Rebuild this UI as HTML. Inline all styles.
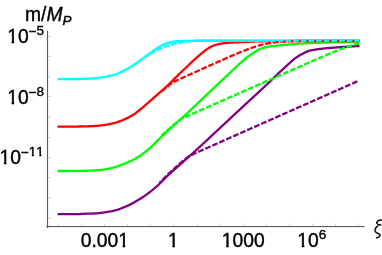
<!DOCTYPE html>
<html><head><meta charset="utf-8"><title>plot</title>
<style>
html,body{margin:0;padding:0;background:#fff;}
svg{display:block;}
text{font-family:"Liberation Sans",sans-serif;font-size:19.3px;fill:#000;stroke:#000;stroke-width:0.4;font-kerning:none;}
</style></head><body>
<svg width="382" height="255" viewBox="0 0 382 255">
<rect width="382" height="255" fill="#fff"/>
<line x1="47.60" y1="36.50" x2="50.90" y2="36.50" stroke="#bdbdbd" stroke-width="0.55"/>
<line x1="47.60" y1="56.50" x2="50.90" y2="56.50" stroke="#bdbdbd" stroke-width="0.55"/>
<line x1="47.60" y1="76.70" x2="50.90" y2="76.70" stroke="#bdbdbd" stroke-width="0.55"/>
<line x1="47.60" y1="96.50" x2="50.90" y2="96.50" stroke="#bdbdbd" stroke-width="0.55"/>
<line x1="47.60" y1="117.30" x2="50.90" y2="117.30" stroke="#bdbdbd" stroke-width="0.55"/>
<line x1="47.60" y1="137.50" x2="50.90" y2="137.50" stroke="#bdbdbd" stroke-width="0.55"/>
<line x1="47.60" y1="157.50" x2="50.90" y2="157.50" stroke="#bdbdbd" stroke-width="0.55"/>
<line x1="47.60" y1="177.50" x2="50.90" y2="177.50" stroke="#bdbdbd" stroke-width="0.55"/>
<line x1="47.60" y1="197.80" x2="50.90" y2="197.80" stroke="#bdbdbd" stroke-width="0.55"/>
<line x1="47.60" y1="218.40" x2="50.90" y2="218.40" stroke="#bdbdbd" stroke-width="0.55"/>
<line x1="58.50" y1="226.60" x2="58.50" y2="223.30" stroke="#bdbdbd" stroke-width="0.55"/>
<line x1="81.50" y1="226.60" x2="81.50" y2="223.30" stroke="#bdbdbd" stroke-width="0.55"/>
<line x1="104.50" y1="226.60" x2="104.50" y2="223.30" stroke="#bdbdbd" stroke-width="0.55"/>
<line x1="127.50" y1="226.60" x2="127.50" y2="223.30" stroke="#bdbdbd" stroke-width="0.55"/>
<line x1="150.50" y1="226.60" x2="150.50" y2="223.30" stroke="#bdbdbd" stroke-width="0.55"/>
<line x1="173.50" y1="226.60" x2="173.50" y2="223.30" stroke="#bdbdbd" stroke-width="0.55"/>
<line x1="197.50" y1="226.60" x2="197.50" y2="223.30" stroke="#bdbdbd" stroke-width="0.55"/>
<line x1="220.50" y1="226.60" x2="220.50" y2="223.30" stroke="#bdbdbd" stroke-width="0.55"/>
<line x1="243.50" y1="226.60" x2="243.50" y2="223.30" stroke="#bdbdbd" stroke-width="0.55"/>
<line x1="266.50" y1="226.60" x2="266.50" y2="223.30" stroke="#bdbdbd" stroke-width="0.55"/>
<line x1="289.50" y1="226.60" x2="289.50" y2="223.30" stroke="#bdbdbd" stroke-width="0.55"/>
<line x1="312.50" y1="226.60" x2="312.50" y2="223.30" stroke="#bdbdbd" stroke-width="0.55"/>
<line x1="335.50" y1="226.60" x2="335.50" y2="223.30" stroke="#bdbdbd" stroke-width="0.55"/>
<line x1="358.50" y1="226.60" x2="358.50" y2="223.30" stroke="#bdbdbd" stroke-width="0.55"/>
<line x1="47.60" y1="30.60" x2="47.60" y2="227.80" stroke="#4a4a4a" stroke-width="1"/>
<line x1="46.20" y1="226.60" x2="364.60" y2="226.60" stroke="#4a4a4a" stroke-width="1"/>
<path d="M57.50 214.20 L58.22 214.20 L58.94 214.20 L59.66 214.20 L60.38 214.20 L61.10 214.20 L61.82 214.20 L62.55 214.20 L63.27 214.19 L63.99 214.19 L64.71 214.19 L65.43 214.19 L66.15 214.19 L66.87 214.18 L67.59 214.18 L68.31 214.18 L69.03 214.18 L69.75 214.17 L70.47 214.17 L71.19 214.17 L71.92 214.16 L72.64 214.16 L73.36 214.16 L74.08 214.15 L74.80 214.15 L75.52 214.15 L76.24 214.14 L76.96 214.12 L77.68 214.10 L78.40 214.07 L79.12 214.05 L79.84 214.01 L80.56 213.98 L81.29 213.95 L82.01 213.91 L82.73 213.87 L83.45 213.84 L84.17 213.80 L84.89 213.77 L85.61 213.74 L86.33 213.71 L87.05 213.68 L87.77 213.66 L88.49 213.64 L89.21 213.63 L89.93 213.62 L90.66 213.61 L91.38 213.59 L92.10 213.57 L92.82 213.55 L93.54 213.52 L94.26 213.48 L94.98 213.44 L95.70 213.39 L96.42 213.34 L97.14 213.28 L97.86 213.22 L98.58 213.15 L99.30 213.08 L100.03 213.00 L100.75 212.91 L101.47 212.83 L102.19 212.73 L102.91 212.64 L103.63 212.54 L104.35 212.43 L105.07 212.31 L105.79 212.18 L106.51 212.05 L107.23 211.91 L107.95 211.77 L108.67 211.64 L109.39 211.55 L110.12 211.46 L110.84 211.37 L111.56 211.26 L112.28 211.11 L113.00 210.94 L113.72 210.77 L114.44 210.59 L115.16 210.41 L115.88 210.21 L116.60 210.00 L117.32 209.77 L118.04 209.54 L118.76 209.29 L119.49 209.03 L120.21 208.77 L120.93 208.50 L121.65 208.22 L122.37 207.94 L123.09 207.65 L123.81 207.36 L124.53 207.06 L125.25 206.75 L125.97 206.44 L126.69 206.13 L127.41 205.82 L128.13 205.50 L128.86 205.16 L129.58 204.82 L130.30 204.46 L131.02 204.09 L131.74 203.71 L132.46 203.32 L133.18 202.92 L133.90 202.52 L134.62 202.11 L135.34 201.69 L136.06 201.27 L136.78 200.84 L137.50 200.41 L138.23 199.98 L138.95 199.54 L139.67 199.10 L140.39 198.66 L141.11 198.21 L141.83 197.75 L142.55 197.29 L143.27 196.82 L143.99 196.34 L144.71 195.86 L145.43 195.37 L146.15 194.87 L146.87 194.35 L147.60 193.83 L148.32 193.30 L149.04 192.76 L149.76 192.20 L150.48 191.63 L151.20 191.05 L151.92 190.47 L152.64 189.88 L153.36 189.29 L154.08 188.69 L154.80 188.08 L155.52 187.46 L156.24 186.83 L156.97 186.19 L157.69 185.53 L158.41 184.86 L159.13 184.18 L159.85 183.49 L160.57 182.78 L161.29 182.05 L162.01 181.32 L162.73 180.57 L163.45 179.83 L164.17 179.09 L164.89 178.36 L165.61 177.64 L166.34 176.94 L167.06 176.26 L167.78 175.58 L168.50 174.90 L169.22 174.23 L169.94 173.57 L170.66 172.92 L171.38 172.26 L172.10 171.62 L172.82 170.97 L173.54 170.33 L174.26 169.69 L174.98 169.05 L175.71 168.41 L176.43 167.78 L177.15 167.14 L177.87 166.50 L178.59 165.86 L179.31 165.22 L180.03 164.58 L180.75 163.95 L181.47 163.31 L182.19 162.67 L182.91 162.04 L183.63 161.40 L184.35 160.76 L185.08 160.12 L185.80 159.47 L186.52 158.83 L187.24 158.18 L187.96 157.54 L188.68 156.89 L189.40 156.24 L190.12 155.58 L190.84 154.93 L191.56 154.27 L192.28 153.61 L193.00 152.96 L193.72 152.30 L194.45 151.64 L195.17 150.99 L195.89 150.34 L196.61 149.69 L197.33 149.03 L198.05 148.37 L198.77 147.71 L199.49 147.05 L200.21 146.39 L200.93 145.72 L201.65 145.06 L202.37 144.40 L203.09 143.74 L203.82 143.07 L204.54 142.41 L205.26 141.74 L205.98 141.07 L206.70 140.40 L207.42 139.73 L208.14 139.06 L208.86 138.39 L209.58 137.71 L210.30 137.04 L211.02 136.37 L211.74 135.69 L212.46 135.02 L213.18 134.35 L213.91 133.67 L214.63 133.00 L215.35 132.33 L216.07 131.66 L216.79 130.99 L217.51 130.31 L218.23 129.64 L218.95 128.97 L219.67 128.30 L220.39 127.62 L221.11 126.95 L221.83 126.28 L222.55 125.61 L223.28 124.93 L224.00 124.26 L224.72 123.59 L225.44 122.92 L226.16 122.24 L226.88 121.57 L227.60 120.90 L228.32 120.23 L229.04 119.56 L229.76 118.88 L230.48 118.21 L231.20 117.54 L231.92 116.87 L232.65 116.19 L233.37 115.52 L234.09 114.85 L234.81 114.18 L235.53 113.51 L236.25 112.84 L236.97 112.16 L237.69 111.49 L238.41 110.82 L239.13 110.15 L239.85 109.48 L240.57 108.81 L241.29 108.14 L242.02 107.47 L242.74 106.80 L243.46 106.13 L244.18 105.46 L244.90 104.80 L245.62 104.13 L246.34 103.47 L247.06 102.80 L247.78 102.14 L248.50 101.47 L249.22 100.81 L249.94 100.15 L250.66 99.49 L251.39 98.83 L252.11 98.16 L252.83 97.50 L253.55 96.84 L254.27 96.18 L254.99 95.52 L255.71 94.86 L256.43 94.19 L257.15 93.53 L257.87 92.86 L258.59 92.20 L259.31 91.53 L260.03 90.87 L260.76 90.20 L261.48 89.53 L262.20 88.86 L262.92 88.18 L263.64 87.51 L264.36 86.83 L265.08 86.15 L265.80 85.47 L266.52 84.79 L267.24 84.10 L267.96 83.41 L268.68 82.71 L269.40 82.02 L270.13 81.32 L270.85 80.63 L271.57 79.93 L272.29 79.24 L273.01 78.54 L273.73 77.84 L274.45 77.15 L275.17 76.46 L275.89 75.77 L276.61 75.08 L277.33 74.39 L278.05 73.71 L278.77 73.03 L279.50 72.36 L280.22 71.68 L280.94 71.02 L281.66 70.35 L282.38 69.69 L283.10 69.03 L283.82 68.37 L284.54 67.71 L285.26 67.06 L285.98 66.40 L286.70 65.75 L287.42 65.10 L288.14 64.45 L288.87 63.80 L289.59 63.14 L290.31 62.47 L291.03 61.80 L291.75 61.13 L292.47 60.48 L293.19 59.85 L293.91 59.25 L294.63 58.69 L295.35 58.17 L296.07 57.66 L296.79 57.16 L297.51 56.69 L298.24 56.22 L298.96 55.78 L299.68 55.36 L300.40 54.96 L301.12 54.57 L301.84 54.18 L302.56 53.79 L303.28 53.39 L304.00 53.01 L304.72 52.63 L305.44 52.27 L306.16 51.94 L306.88 51.63 L307.61 51.35 L308.33 51.09 L309.05 50.85 L309.77 50.64 L310.49 50.45 L311.21 50.28 L311.93 50.14 L312.65 50.02 L313.37 49.90 L314.09 49.78 L314.81 49.66 L315.53 49.55 L316.25 49.44 L316.97 49.34 L317.70 49.24 L318.42 49.14 L319.14 49.04 L319.86 48.95 L320.58 48.86 L321.30 48.78 L322.02 48.69 L322.74 48.61 L323.46 48.54 L324.18 48.46 L324.90 48.39 L325.62 48.32 L326.34 48.25 L327.07 48.18 L327.79 48.12 L328.51 48.05 L329.23 47.99 L329.95 47.93 L330.67 47.87 L331.39 47.81 L332.11 47.75 L332.83 47.70 L333.55 47.64 L334.27 47.59 L334.99 47.53 L335.71 47.48 L336.44 47.43 L337.16 47.38 L337.88 47.33 L338.60 47.27 L339.32 47.22 L340.04 47.17 L340.76 47.12 L341.48 47.07 L342.20 47.02 L342.92 46.98 L343.64 46.93 L344.36 46.88 L345.08 46.83 L345.81 46.78 L346.53 46.74 L347.25 46.69 L347.97 46.65 L348.69 46.60 L349.41 46.56 L350.13 46.51 L350.85 46.47 L351.57 46.43 L352.29 46.38 L353.01 46.34 L353.73 46.30 L354.45 46.26 L355.18 46.22 L355.90 46.18 L356.62 46.14 L357.34 46.10 L358.06 46.07 L358.78 46.03 L359.50 45.99" stroke="#800080" stroke-width="2.3" fill="none" stroke-linejoin="round"/>
<path d="M57.50 171.00 L58.22 171.00 L58.94 171.00 L59.66 171.00 L60.38 171.00 L61.10 171.00 L61.82 171.00 L62.55 171.00 L63.27 170.99 L63.99 170.99 L64.71 170.99 L65.43 170.99 L66.15 170.99 L66.87 170.98 L67.59 170.98 L68.31 170.98 L69.03 170.98 L69.75 170.97 L70.47 170.97 L71.19 170.97 L71.92 170.97 L72.64 170.96 L73.36 170.96 L74.08 170.95 L74.80 170.95 L75.52 170.95 L76.24 170.94 L76.96 170.94 L77.68 170.93 L78.40 170.92 L79.12 170.92 L79.84 170.91 L80.56 170.90 L81.29 170.89 L82.01 170.87 L82.73 170.86 L83.45 170.84 L84.17 170.83 L84.89 170.81 L85.61 170.79 L86.33 170.76 L87.05 170.74 L87.77 170.71 L88.49 170.68 L89.21 170.65 L89.93 170.62 L90.66 170.60 L91.38 170.56 L92.10 170.53 L92.82 170.50 L93.54 170.46 L94.26 170.42 L94.98 170.37 L95.70 170.33 L96.42 170.28 L97.14 170.23 L97.86 170.17 L98.58 170.11 L99.30 170.04 L100.03 169.97 L100.75 169.90 L101.47 169.83 L102.19 169.75 L102.91 169.66 L103.63 169.57 L104.35 169.47 L105.07 169.36 L105.79 169.24 L106.51 169.11 L107.23 168.98 L107.95 168.83 L108.67 168.68 L109.39 168.53 L110.12 168.36 L110.84 168.20 L111.56 168.02 L112.28 167.84 L113.00 167.66 L113.72 167.47 L114.44 167.28 L115.16 167.08 L115.88 166.88 L116.60 166.66 L117.32 166.42 L118.04 166.18 L118.76 165.92 L119.49 165.65 L120.21 165.37 L120.93 165.09 L121.65 164.81 L122.37 164.52 L123.09 164.24 L123.81 163.95 L124.53 163.66 L125.25 163.37 L125.97 163.08 L126.69 162.79 L127.41 162.49 L128.13 162.20 L128.86 161.89 L129.58 161.58 L130.30 161.26 L131.02 160.92 L131.74 160.57 L132.46 160.21 L133.18 159.84 L133.90 159.47 L134.62 159.08 L135.34 158.68 L136.06 158.28 L136.78 157.86 L137.50 157.43 L138.23 156.99 L138.95 156.54 L139.67 156.07 L140.39 155.58 L141.11 155.08 L141.83 154.57 L142.55 154.04 L143.27 153.50 L143.99 152.95 L144.71 152.39 L145.43 151.82 L146.15 151.25 L146.87 150.66 L147.60 150.06 L148.32 149.45 L149.04 148.82 L149.76 148.18 L150.48 147.53 L151.20 146.86 L151.92 146.16 L152.64 145.46 L153.36 144.74 L154.08 144.01 L154.80 143.29 L155.52 142.56 L156.24 141.84 L156.97 141.11 L157.69 140.39 L158.41 139.68 L159.13 138.98 L159.85 138.29 L160.57 137.61 L161.29 136.93 L162.01 136.25 L162.73 135.58 L163.45 134.91 L164.17 134.25 L164.89 133.59 L165.61 132.93 L166.34 132.27 L167.06 131.62 L167.78 130.96 L168.50 130.30 L169.22 129.65 L169.94 128.99 L170.66 128.33 L171.38 127.67 L172.10 127.00 L172.82 126.34 L173.54 125.68 L174.26 125.02 L174.98 124.36 L175.71 123.71 L176.43 123.05 L177.15 122.39 L177.87 121.73 L178.59 121.08 L179.31 120.42 L180.03 119.76 L180.75 119.11 L181.47 118.45 L182.19 117.79 L182.91 117.13 L183.63 116.47 L184.35 115.81 L185.08 115.15 L185.80 114.49 L186.52 113.82 L187.24 113.15 L187.96 112.48 L188.68 111.80 L189.40 111.13 L190.12 110.45 L190.84 109.77 L191.56 109.08 L192.28 108.40 L193.00 107.72 L193.72 107.03 L194.45 106.34 L195.17 105.66 L195.89 104.97 L196.61 104.28 L197.33 103.60 L198.05 102.91 L198.77 102.23 L199.49 101.54 L200.21 100.86 L200.93 100.18 L201.65 99.50 L202.37 98.82 L203.09 98.14 L203.82 97.45 L204.54 96.77 L205.26 96.08 L205.98 95.40 L206.70 94.71 L207.42 94.02 L208.14 93.34 L208.86 92.66 L209.58 91.97 L210.30 91.29 L211.02 90.61 L211.74 89.93 L212.46 89.25 L213.18 88.57 L213.91 87.89 L214.63 87.22 L215.35 86.54 L216.07 85.86 L216.79 85.19 L217.51 84.51 L218.23 83.84 L218.95 83.17 L219.67 82.49 L220.39 81.81 L221.11 81.14 L221.83 80.46 L222.55 79.78 L223.28 79.10 L224.00 78.42 L224.72 77.73 L225.44 77.04 L226.16 76.36 L226.88 75.67 L227.60 74.98 L228.32 74.29 L229.04 73.60 L229.76 72.91 L230.48 72.22 L231.20 71.54 L231.92 70.85 L232.65 70.17 L233.37 69.49 L234.09 68.82 L234.81 68.14 L235.53 67.47 L236.25 66.81 L236.97 66.15 L237.69 65.50 L238.41 64.85 L239.13 64.20 L239.85 63.55 L240.57 62.90 L241.29 62.25 L242.02 61.60 L242.74 60.96 L243.46 60.34 L244.18 59.72 L244.90 59.10 L245.62 58.50 L246.34 57.91 L247.06 57.33 L247.78 56.78 L248.50 56.23 L249.22 55.71 L249.94 55.20 L250.66 54.70 L251.39 54.22 L252.11 53.75 L252.83 53.27 L253.55 52.79 L254.27 52.31 L254.99 51.84 L255.71 51.37 L256.43 50.93 L257.15 50.51 L257.87 50.12 L258.59 49.75 L259.31 49.40 L260.03 49.06 L260.76 48.74 L261.48 48.44 L262.20 48.17 L262.92 47.93 L263.64 47.71 L264.36 47.51 L265.08 47.34 L265.80 47.17 L266.52 47.02 L267.24 46.88 L267.96 46.75 L268.68 46.63 L269.40 46.52 L270.13 46.41 L270.85 46.30 L271.57 46.20 L272.29 46.11 L273.01 46.02 L273.73 45.93 L274.45 45.85 L275.17 45.77 L275.89 45.69 L276.61 45.61 L277.33 45.54 L278.05 45.47 L278.77 45.39 L279.50 45.32 L280.22 45.25 L280.94 45.18 L281.66 45.11 L282.38 45.04 L283.10 44.98 L283.82 44.92 L284.54 44.86 L285.26 44.80 L285.98 44.74 L286.70 44.69 L287.42 44.63 L288.14 44.57 L288.87 44.52 L289.59 44.46 L290.31 44.40 L291.03 44.33 L291.75 44.27 L292.47 44.21 L293.19 44.16 L293.91 44.10 L294.63 44.04 L295.35 43.99 L296.07 43.94 L296.79 43.88 L297.51 43.84 L298.24 43.79 L298.96 43.75 L299.68 43.70 L300.40 43.66 L301.12 43.62 L301.84 43.58 L302.56 43.54 L303.28 43.50 L304.00 43.45 L304.72 43.41 L305.44 43.36 L306.16 43.32 L306.88 43.28 L307.61 43.23 L308.33 43.19 L309.05 43.15 L309.77 43.11 L310.49 43.07 L311.21 43.04 L311.93 43.01 L312.65 42.98 L313.37 42.95 L314.09 42.92 L314.81 42.89 L315.53 42.87 L316.25 42.84 L316.97 42.82 L317.70 42.79 L318.42 42.77 L319.14 42.75 L319.86 42.72 L320.58 42.70 L321.30 42.68 L322.02 42.66 L322.74 42.64 L323.46 42.62 L324.18 42.60 L324.90 42.59 L325.62 42.57 L326.34 42.55 L327.07 42.54 L327.79 42.52 L328.51 42.51 L329.23 42.49 L329.95 42.48 L330.67 42.46 L331.39 42.45 L332.11 42.44 L332.83 42.42 L333.55 42.41 L334.27 42.40 L334.99 42.38 L335.71 42.37 L336.44 42.36 L337.16 42.35 L337.88 42.33 L338.60 42.32 L339.32 42.31 L340.04 42.30 L340.76 42.29 L341.48 42.28 L342.20 42.26 L342.92 42.25 L343.64 42.24 L344.36 42.23 L345.08 42.22 L345.81 42.21 L346.53 42.20 L347.25 42.20 L347.97 42.19 L348.69 42.18 L349.41 42.17 L350.13 42.16 L350.85 42.16 L351.57 42.15 L352.29 42.14 L353.01 42.14 L353.73 42.13 L354.45 42.13 L355.18 42.12 L355.90 42.12 L356.62 42.11 L357.34 42.11 L358.06 42.10 L358.78 42.10 L359.50 42.10" stroke="#00ff00" stroke-width="2.3" fill="none" stroke-linejoin="round"/>
<path d="M57.50 126.60 L58.22 126.60 L58.94 126.60 L59.66 126.60 L60.38 126.60 L61.10 126.60 L61.82 126.60 L62.55 126.60 L63.27 126.59 L63.99 126.59 L64.71 126.59 L65.43 126.59 L66.15 126.59 L66.87 126.58 L67.59 126.58 L68.31 126.58 L69.03 126.58 L69.75 126.57 L70.47 126.57 L71.19 126.57 L71.92 126.57 L72.64 126.56 L73.36 126.56 L74.08 126.55 L74.80 126.55 L75.52 126.55 L76.24 126.54 L76.96 126.53 L77.68 126.53 L78.40 126.52 L79.12 126.51 L79.84 126.50 L80.56 126.48 L81.29 126.47 L82.01 126.45 L82.73 126.44 L83.45 126.42 L84.17 126.40 L84.89 126.38 L85.61 126.36 L86.33 126.34 L87.05 126.32 L87.77 126.30 L88.49 126.27 L89.21 126.25 L89.93 126.23 L90.66 126.20 L91.38 126.17 L92.10 126.14 L92.82 126.10 L93.54 126.06 L94.26 126.02 L94.98 125.97 L95.70 125.92 L96.42 125.86 L97.14 125.80 L97.86 125.74 L98.58 125.67 L99.30 125.60 L100.03 125.53 L100.75 125.45 L101.47 125.37 L102.19 125.29 L102.91 125.20 L103.63 125.11 L104.35 125.01 L105.07 124.91 L105.79 124.79 L106.51 124.67 L107.23 124.54 L107.95 124.41 L108.67 124.27 L109.39 124.12 L110.12 123.97 L110.84 123.81 L111.56 123.65 L112.28 123.48 L113.00 123.31 L113.72 123.13 L114.44 122.95 L115.16 122.77 L115.88 122.58 L116.60 122.37 L117.32 122.15 L118.04 121.91 L118.76 121.67 L119.49 121.41 L120.21 121.14 L120.93 120.86 L121.65 120.57 L122.37 120.26 L123.09 119.95 L123.81 119.63 L124.53 119.31 L125.25 118.98 L125.97 118.65 L126.69 118.31 L127.41 117.97 L128.13 117.63 L128.86 117.27 L129.58 116.90 L130.30 116.50 L131.02 116.10 L131.74 115.68 L132.46 115.24 L133.18 114.79 L133.90 114.32 L134.62 113.83 L135.34 113.32 L136.06 112.78 L136.78 112.23 L137.50 111.66 L138.23 111.09 L138.95 110.51 L139.67 109.93 L140.39 109.35 L141.11 108.76 L141.83 108.16 L142.55 107.55 L143.27 106.93 L143.99 106.31 L144.71 105.69 L145.43 105.06 L146.15 104.44 L146.87 103.81 L147.60 103.18 L148.32 102.55 L149.04 101.92 L149.76 101.28 L150.48 100.64 L151.20 100.00 L151.92 99.37 L152.64 98.73 L153.36 98.10 L154.08 97.46 L154.80 96.83 L155.52 96.19 L156.24 95.56 L156.97 94.92 L157.69 94.29 L158.41 93.66 L159.13 93.03 L159.85 92.40 L160.57 91.77 L161.29 91.15 L162.01 90.52 L162.73 89.89 L163.45 89.26 L164.17 88.63 L164.89 88.00 L165.61 87.36 L166.34 86.73 L167.06 86.08 L167.78 85.43 L168.50 84.74 L169.22 84.04 L169.94 83.32 L170.66 82.59 L171.38 81.85 L172.10 81.11 L172.82 80.37 L173.54 79.63 L174.26 78.90 L174.98 78.19 L175.71 77.48 L176.43 76.77 L177.15 76.06 L177.87 75.34 L178.59 74.63 L179.31 73.93 L180.03 73.22 L180.75 72.52 L181.47 71.83 L182.19 71.15 L182.91 70.48 L183.63 69.81 L184.35 69.15 L185.08 68.48 L185.80 67.82 L186.52 67.14 L187.24 66.45 L187.96 65.77 L188.68 65.08 L189.40 64.38 L190.12 63.69 L190.84 63.00 L191.56 62.32 L192.28 61.63 L193.00 60.96 L193.72 60.29 L194.45 59.63 L195.17 58.98 L195.89 58.33 L196.61 57.68 L197.33 57.04 L198.05 56.40 L198.77 55.77 L199.49 55.15 L200.21 54.53 L200.93 53.93 L201.65 53.33 L202.37 52.73 L203.09 52.13 L203.82 51.53 L204.54 50.94 L205.26 50.38 L205.98 49.84 L206.70 49.33 L207.42 48.85 L208.14 48.41 L208.86 47.97 L209.58 47.55 L210.30 47.14 L211.02 46.76 L211.74 46.40 L212.46 46.07 L213.18 45.76 L213.91 45.49 L214.63 45.23 L215.35 44.98 L216.07 44.75 L216.79 44.54 L217.51 44.34 L218.23 44.16 L218.95 44.00 L219.67 43.86 L220.39 43.74 L221.11 43.62 L221.83 43.52 L222.55 43.42 L223.28 43.33 L224.00 43.24 L224.72 43.16 L225.44 43.09 L226.16 43.02 L226.88 42.95 L227.60 42.89 L228.32 42.83 L229.04 42.77 L229.76 42.72 L230.48 42.67 L231.20 42.63 L231.92 42.58 L232.65 42.54 L233.37 42.49 L234.09 42.45 L234.81 42.41 L235.53 42.37 L236.25 42.34 L236.97 42.30 L237.69 42.26 L238.41 42.23 L239.13 42.19 L239.85 42.15 L240.57 42.12 L241.29 42.08 L242.02 42.05 L242.74 42.01 L243.46 41.98 L244.18 41.94 L244.90 41.91 L245.62 41.88 L246.34 41.84 L247.06 41.81 L247.78 41.77 L248.50 41.74 L249.22 41.70 L249.94 41.67 L250.66 41.64 L251.39 41.60 L252.11 41.57 L252.83 41.54 L253.55 41.52 L254.27 41.49 L254.99 41.47 L255.71 41.45 L256.43 41.43 L257.15 41.41 L257.87 41.40 L258.59 41.38 L259.31 41.37 L260.03 41.36 L260.76 41.35 L261.48 41.34 L262.20 41.33 L262.92 41.31 L263.64 41.30 L264.36 41.29 L265.08 41.28 L265.80 41.27 L266.52 41.26 L267.24 41.25 L267.96 41.24 L268.68 41.23 L269.40 41.22 L270.13 41.21 L270.85 41.20 L271.57 41.19 L272.29 41.18 L273.01 41.17 L273.73 41.17 L274.45 41.16 L275.17 41.15 L275.89 41.14 L276.61 41.13 L277.33 41.12 L278.05 41.12 L278.77 41.11 L279.50 41.10 L280.22 41.10 L280.94 41.09 L281.66 41.08 L282.38 41.08 L283.10 41.07 L283.82 41.07 L284.54 41.06 L285.26 41.05 L285.98 41.05 L286.70 41.04 L287.42 41.04 L288.14 41.04 L288.87 41.03 L289.59 41.03 L290.31 41.02 L291.03 41.02 L291.75 41.02 L292.47 41.01 L293.19 41.01 L293.91 41.01 L294.63 41.01 L295.35 41.01 L296.07 41.00 L296.79 41.00 L297.51 41.00 L298.24 41.00 L298.96 41.00 L299.68 41.00 L300.40 41.00 L301.12 41.00 L301.84 41.00 L302.56 41.00 L303.28 41.00 L304.00 41.00 L304.72 41.00 L305.44 41.00 L306.16 41.00 L306.88 41.00 L307.61 41.00 L308.33 41.00 L309.05 41.00 L309.77 41.00 L310.49 41.00 L311.21 41.00 L311.93 41.00 L312.65 41.00 L313.37 41.00 L314.09 41.00 L314.81 41.00 L315.53 41.00 L316.25 41.00 L316.97 41.00 L317.70 41.00 L318.42 41.00 L319.14 41.00 L319.86 41.00 L320.58 41.00 L321.30 41.00 L322.02 41.00 L322.74 41.00 L323.46 41.00 L324.18 41.00 L324.90 41.00 L325.62 41.00 L326.34 41.00 L327.07 41.00 L327.79 41.00 L328.51 41.00 L329.23 41.00 L329.95 41.00 L330.67 41.00 L331.39 41.00 L332.11 41.00 L332.83 41.00 L333.55 41.00 L334.27 41.00 L334.99 41.00 L335.71 41.00 L336.44 41.00 L337.16 41.00 L337.88 41.00 L338.60 41.00 L339.32 41.00 L340.04 41.00 L340.76 41.00 L341.48 41.00 L342.20 41.00 L342.92 41.00 L343.64 41.00 L344.36 41.00 L345.08 41.00 L345.81 41.00 L346.53 41.00 L347.25 41.00 L347.97 41.00 L348.69 41.00 L349.41 41.00 L350.13 41.00 L350.85 41.00 L351.57 41.00 L352.29 41.00 L353.01 41.00 L353.73 41.00 L354.45 41.00 L355.18 41.00 L355.90 41.00 L356.62 41.00 L357.34 41.00 L358.06 41.00 L358.78 41.00 L359.50 41.00" stroke="#ff0000" stroke-width="2.3" fill="none" stroke-linejoin="round"/>
<path d="M57.50 79.10 L58.22 79.10 L58.94 79.10 L59.66 79.10 L60.38 79.10 L61.10 79.10 L61.82 79.10 L62.55 79.10 L63.27 79.09 L63.99 79.09 L64.71 79.09 L65.43 79.09 L66.15 79.09 L66.87 79.08 L67.59 79.08 L68.31 79.08 L69.03 79.08 L69.75 79.07 L70.47 79.07 L71.19 79.07 L71.92 79.07 L72.64 79.06 L73.36 79.06 L74.08 79.05 L74.80 79.05 L75.52 79.05 L76.24 79.04 L76.96 79.03 L77.68 79.02 L78.40 79.01 L79.12 78.99 L79.84 78.98 L80.56 78.96 L81.29 78.94 L82.01 78.92 L82.73 78.90 L83.45 78.87 L84.17 78.85 L84.89 78.82 L85.61 78.79 L86.33 78.76 L87.05 78.73 L87.77 78.70 L88.49 78.67 L89.21 78.64 L89.93 78.60 L90.66 78.57 L91.38 78.52 L92.10 78.48 L92.82 78.42 L93.54 78.36 L94.26 78.30 L94.98 78.23 L95.70 78.16 L96.42 78.09 L97.14 78.01 L97.86 77.92 L98.58 77.83 L99.30 77.74 L100.03 77.65 L100.75 77.56 L101.47 77.46 L102.19 77.36 L102.91 77.26 L103.63 77.15 L104.35 77.03 L105.07 76.91 L105.79 76.78 L106.51 76.64 L107.23 76.50 L107.95 76.35 L108.67 76.19 L109.39 76.03 L110.12 75.86 L110.84 75.68 L111.56 75.50 L112.28 75.31 L113.00 75.11 L113.72 74.91 L114.44 74.70 L115.16 74.48 L115.88 74.25 L116.60 74.00 L117.32 73.73 L118.04 73.45 L118.76 73.15 L119.49 72.83 L120.21 72.50 L120.93 72.16 L121.65 71.81 L122.37 71.45 L123.09 71.08 L123.81 70.70 L124.53 70.32 L125.25 69.93 L125.97 69.54 L126.69 69.15 L127.41 68.76 L128.13 68.36 L128.86 67.95 L129.58 67.52 L130.30 67.08 L131.02 66.63 L131.74 66.17 L132.46 65.70 L133.18 65.22 L133.90 64.74 L134.62 64.25 L135.34 63.76 L136.06 63.27 L136.78 62.78 L137.50 62.29 L138.23 61.78 L138.95 61.27 L139.67 60.75 L140.39 60.23 L141.11 59.70 L141.83 59.16 L142.55 58.63 L143.27 58.09 L143.99 57.55 L144.71 57.02 L145.43 56.48 L146.15 55.95 L146.87 55.43 L147.60 54.91 L148.32 54.40 L149.04 53.89 L149.76 53.38 L150.48 52.86 L151.20 52.34 L151.92 51.82 L152.64 51.29 L153.36 50.77 L154.08 50.25 L154.80 49.74 L155.52 49.24 L156.24 48.74 L156.97 48.26 L157.69 47.79 L158.41 47.33 L159.13 46.89 L159.85 46.47 L160.57 46.08 L161.29 45.70 L162.01 45.34 L162.73 44.99 L163.45 44.65 L164.17 44.32 L164.89 44.01 L165.61 43.72 L166.34 43.45 L167.06 43.21 L167.78 42.98 L168.50 42.77 L169.22 42.56 L169.94 42.36 L170.66 42.17 L171.38 42.00 L172.10 41.85 L172.82 41.72 L173.54 41.62 L174.26 41.54 L174.98 41.46 L175.71 41.39 L176.43 41.32 L177.15 41.26 L177.87 41.20 L178.59 41.14 L179.31 41.09 L180.03 41.04 L180.75 41.00 L181.47 40.97 L182.19 40.94 L182.91 40.92 L183.63 40.90 L184.35 40.89 L185.08 40.88 L185.80 40.87 L186.52 40.86 L187.24 40.85 L187.96 40.84 L188.68 40.83 L189.40 40.82 L190.12 40.81 L190.84 40.80 L191.56 40.79 L192.28 40.79 L193.00 40.78 L193.72 40.78 L194.45 40.77 L195.17 40.77 L195.89 40.76 L196.61 40.76 L197.33 40.76 L198.05 40.75 L198.77 40.75 L199.49 40.75 L200.21 40.75 L200.93 40.75 L201.65 40.75 L202.37 40.75 L203.09 40.75 L203.82 40.75 L204.54 40.75 L205.26 40.75 L205.98 40.75 L206.70 40.74 L207.42 40.74 L208.14 40.74 L208.86 40.74 L209.58 40.74 L210.30 40.74 L211.02 40.74 L211.74 40.74 L212.46 40.74 L213.18 40.74 L213.91 40.74 L214.63 40.74 L215.35 40.74 L216.07 40.74 L216.79 40.74 L217.51 40.74 L218.23 40.74 L218.95 40.74 L219.67 40.74 L220.39 40.74 L221.11 40.73 L221.83 40.73 L222.55 40.73 L223.28 40.73 L224.00 40.73 L224.72 40.73 L225.44 40.73 L226.16 40.73 L226.88 40.73 L227.60 40.73 L228.32 40.73 L229.04 40.73 L229.76 40.73 L230.48 40.73 L231.20 40.73 L231.92 40.73 L232.65 40.73 L233.37 40.73 L234.09 40.73 L234.81 40.73 L235.53 40.73 L236.25 40.73 L236.97 40.73 L237.69 40.73 L238.41 40.72 L239.13 40.72 L239.85 40.72 L240.57 40.72 L241.29 40.72 L242.02 40.72 L242.74 40.72 L243.46 40.72 L244.18 40.72 L244.90 40.72 L245.62 40.72 L246.34 40.72 L247.06 40.72 L247.78 40.72 L248.50 40.72 L249.22 40.72 L249.94 40.72 L250.66 40.72 L251.39 40.72 L252.11 40.72 L252.83 40.72 L253.55 40.72 L254.27 40.72 L254.99 40.72 L255.71 40.72 L256.43 40.72 L257.15 40.72 L257.87 40.72 L258.59 40.72 L259.31 40.72 L260.03 40.72 L260.76 40.71 L261.48 40.71 L262.20 40.71 L262.92 40.71 L263.64 40.71 L264.36 40.71 L265.08 40.71 L265.80 40.71 L266.52 40.71 L267.24 40.71 L267.96 40.71 L268.68 40.71 L269.40 40.71 L270.13 40.71 L270.85 40.71 L271.57 40.71 L272.29 40.71 L273.01 40.71 L273.73 40.71 L274.45 40.71 L275.17 40.71 L275.89 40.71 L276.61 40.71 L277.33 40.71 L278.05 40.71 L278.77 40.71 L279.50 40.71 L280.22 40.71 L280.94 40.71 L281.66 40.71 L282.38 40.71 L283.10 40.71 L283.82 40.71 L284.54 40.71 L285.26 40.71 L285.98 40.71 L286.70 40.71 L287.42 40.71 L288.14 40.71 L288.87 40.71 L289.59 40.71 L290.31 40.71 L291.03 40.71 L291.75 40.71 L292.47 40.71 L293.19 40.71 L293.91 40.71 L294.63 40.71 L295.35 40.71 L296.07 40.71 L296.79 40.70 L297.51 40.70 L298.24 40.70 L298.96 40.70 L299.68 40.70 L300.40 40.70 L301.12 40.70 L301.84 40.70 L302.56 40.70 L303.28 40.70 L304.00 40.70 L304.72 40.70 L305.44 40.70 L306.16 40.70 L306.88 40.70 L307.61 40.70 L308.33 40.70 L309.05 40.70 L309.77 40.70 L310.49 40.70 L311.21 40.70 L311.93 40.70 L312.65 40.70 L313.37 40.70 L314.09 40.70 L314.81 40.70 L315.53 40.70 L316.25 40.70 L316.97 40.70 L317.70 40.70 L318.42 40.70 L319.14 40.70 L319.86 40.70 L320.58 40.70 L321.30 40.70 L322.02 40.70 L322.74 40.70 L323.46 40.70 L324.18 40.70 L324.90 40.70 L325.62 40.70 L326.34 40.70 L327.07 40.70 L327.79 40.70 L328.51 40.70 L329.23 40.70 L329.95 40.70 L330.67 40.70 L331.39 40.70 L332.11 40.70 L332.83 40.70 L333.55 40.70 L334.27 40.70 L334.99 40.70 L335.71 40.70 L336.44 40.70 L337.16 40.70 L337.88 40.70 L338.60 40.70 L339.32 40.70 L340.04 40.70 L340.76 40.70 L341.48 40.70 L342.20 40.70 L342.92 40.70 L343.64 40.70 L344.36 40.70 L345.08 40.70 L345.81 40.70 L346.53 40.70 L347.25 40.70 L347.97 40.70 L348.69 40.70 L349.41 40.70 L350.13 40.70 L350.85 40.70 L351.57 40.70 L352.29 40.70 L353.01 40.70 L353.73 40.70 L354.45 40.70 L355.18 40.70 L355.90 40.70 L356.62 40.70 L357.34 40.70 L358.06 40.70 L358.78 40.70 L359.50 40.70" stroke="#00ffff" stroke-width="2.3" fill="none" stroke-linejoin="round"/>
<path d="M159.50 182.73 L160.00 182.25 L160.49 181.76 L160.99 181.26 L161.48 180.75 L161.98 180.25 L162.48 179.74 L162.97 179.23 L163.47 178.71 L163.97 178.20 L164.46 177.70 L164.96 177.20 L165.45 176.70 L165.95 176.21 L166.45 175.74 L166.94 175.26 L167.44 174.79 L167.94 174.33 L168.43 173.86 L168.93 173.40 L169.42 172.94 L169.92 172.49 L170.42 172.04 L170.91 171.59 L171.41 171.14 L171.91 170.69 L172.40 170.25 L172.90 169.80 L173.39 169.36 L173.89 168.92 L174.39 168.48 L174.88 168.04 L175.38 167.60 L175.88 167.16 L176.37 166.73 L176.87 166.29 L177.36 165.85 L177.86 165.41 L178.36 164.97 L178.85 164.53 L179.35 164.09 L179.85 163.66 L180.34 163.22 L180.84 162.79 L181.33 162.36 L181.83 161.92 L182.33 161.49 L182.82 161.07 L183.32 160.64 L183.82 160.22 L184.31 159.80 L184.81 159.39 L185.30 158.99 L185.80 158.59 L186.30 158.21 L186.79 157.84 L187.29 157.48 L187.79 157.13 L188.28 156.80 L188.78 156.48 L189.27 156.18 L189.77 155.89 L190.27 155.62 L190.76 155.35 L191.26 155.10 L191.76 154.85 L192.25 154.61 L192.75 154.37 L193.24 154.14 L193.74 153.91 L194.24 153.68 L194.73 153.45 L195.23 153.23 L195.73 153.00 L196.22 152.78 L196.72 152.56 L197.21 152.34 L197.71 152.12 L198.21 151.90 L198.70 151.67 L199.20 151.45 L199.70 151.23 L200.19 151.01 L200.69 150.79 L201.18 150.57 L201.68 150.35 L202.18 150.13 L202.67 149.91 L203.17 149.69 L203.67 149.47 L204.16 149.25 L204.66 149.03 L205.15 148.81 L205.65 148.59 L206.15 148.37 L206.64 148.15 L207.14 147.93 L207.64 147.71 L208.13 147.49 L208.63 147.27 L209.12 147.05 L209.62 146.83 L210.12 146.61 L210.61 146.39 L211.11 146.17 L211.61 145.95 L212.10 145.73 L212.60 145.51 L213.09 145.29 L213.59 145.07 L214.09 144.85 L214.58 144.63 L215.08 144.41 L215.58 144.19 L216.07 143.97 L216.57 143.75 L217.06 143.53 L217.56 143.31 L218.06 143.09 L218.55 142.87 L219.05 142.65 L219.55 142.43 L220.04 142.21 L220.54 141.99 L221.03 141.77 L221.53 141.55 L222.03 141.33 L222.52 141.11 L223.02 140.89 L223.52 140.67 L224.01 140.45 L224.51 140.23 L225.00 140.01 L225.50 139.79 L226.00 139.57 L226.49 139.35 L226.99 139.13 L227.48 138.91 L227.98 138.69 L228.48 138.47 L228.97 138.25 L229.47 138.03 L229.97 137.81 L230.46 137.59 L230.96 137.37 L231.45 137.15 L231.95 136.93 L232.45 136.71 L232.94 136.49 L233.44 136.27 L233.94 136.05 L234.43 135.83 L234.93 135.61 L235.42 135.39 L235.92 135.17 L236.42 134.95 L236.91 134.73 L237.41 134.51 L237.91 134.29 L238.40 134.07 L238.90 133.85 L239.39 133.63 L239.89 133.41 L240.39 133.19 L240.88 132.97 L241.38 132.75 L241.88 132.53 L242.37 132.31 L242.87 132.09 L243.36 131.87 L243.86 131.65 L244.36 131.43 L244.85 131.21 L245.35 130.99 L245.85 130.77 L246.34 130.55 L246.84 130.33 L247.33 130.11 L247.83 129.89 L248.33 129.67 L248.82 129.45 L249.32 129.23 L249.82 129.01 L250.31 128.79 L250.81 128.57 L251.30 128.35 L251.80 128.13 L252.30 127.91 L252.79 127.69 L253.29 127.47 L253.79 127.25 L254.28 127.03 L254.78 126.81 L255.27 126.59 L255.77 126.37 L256.27 126.15 L256.76 125.93 L257.26 125.71 L257.76 125.49 L258.25 125.27 L258.75 125.05 L259.24 124.83 L259.74 124.61 L260.24 124.39 L260.73 124.17 L261.23 123.95 L261.73 123.73 L262.22 123.51 L262.72 123.29 L263.21 123.07 L263.71 122.85 L264.21 122.63 L264.70 122.41 L265.20 122.19 L265.70 121.97 L266.19 121.75 L266.69 121.53 L267.18 121.31 L267.68 121.09 L268.18 120.87 L268.67 120.65 L269.17 120.43 L269.67 120.21 L270.16 119.99 L270.66 119.77 L271.15 119.55 L271.65 119.33 L272.15 119.11 L272.64 118.89 L273.14 118.67 L273.64 118.45 L274.13 118.23 L274.63 118.01 L275.12 117.79 L275.62 117.57 L276.12 117.35 L276.61 117.13 L277.11 116.91 L277.61 116.69 L278.10 116.47 L278.60 116.25 L279.09 116.03 L279.59 115.81 L280.09 115.59 L280.58 115.37 L281.08 115.15 L281.58 114.93 L282.07 114.71 L282.57 114.49 L283.06 114.27 L283.56 114.05 L284.06 113.83 L284.55 113.61 L285.05 113.39 L285.55 113.17 L286.04 112.95 L286.54 112.73 L287.03 112.51 L287.53 112.29 L288.03 112.07 L288.52 111.85 L289.02 111.63 L289.52 111.41 L290.01 111.19 L290.51 110.97 L291.00 110.75 L291.50 110.53 L292.00 110.31 L292.49 110.09 L292.99 109.87 L293.48 109.65 L293.98 109.43 L294.48 109.21 L294.97 108.99 L295.47 108.77 L295.97 108.55 L296.46 108.33 L296.96 108.11 L297.45 107.89 L297.95 107.67 L298.45 107.45 L298.94 107.23 L299.44 107.01 L299.94 106.79 L300.43 106.57 L300.93 106.35 L301.42 106.13 L301.92 105.91 L302.42 105.69 L302.91 105.47 L303.41 105.25 L303.91 105.03 L304.40 104.81 L304.90 104.59 L305.39 104.37 L305.89 104.15 L306.39 103.93 L306.88 103.71 L307.38 103.49 L307.88 103.27 L308.37 103.04 L308.87 102.82 L309.36 102.60 L309.86 102.38 L310.36 102.16 L310.85 101.94 L311.35 101.72 L311.85 101.50 L312.34 101.28 L312.84 101.06 L313.33 100.84 L313.83 100.62 L314.33 100.40 L314.82 100.18 L315.32 99.96 L315.82 99.74 L316.31 99.52 L316.81 99.30 L317.30 99.08 L317.80 98.86 L318.30 98.64 L318.79 98.42 L319.29 98.20 L319.79 97.98 L320.28 97.76 L320.78 97.54 L321.27 97.32 L321.77 97.10 L322.27 96.88 L322.76 96.66 L323.26 96.44 L323.76 96.22 L324.25 96.00 L324.75 95.78 L325.24 95.56 L325.74 95.34 L326.24 95.12 L326.73 94.90 L327.23 94.68 L327.73 94.46 L328.22 94.24 L328.72 94.02 L329.21 93.80 L329.71 93.58 L330.21 93.36 L330.70 93.14 L331.20 92.92 L331.70 92.70 L332.19 92.48 L332.69 92.26 L333.18 92.04 L333.68 91.82 L334.18 91.60 L334.67 91.38 L335.17 91.16 L335.67 90.94 L336.16 90.72 L336.66 90.50 L337.15 90.28 L337.65 90.06 L338.15 89.84 L338.64 89.62 L339.14 89.40 L339.64 89.18 L340.13 88.96 L340.63 88.74 L341.12 88.52 L341.62 88.30 L342.12 88.08 L342.61 87.86 L343.11 87.64 L343.61 87.42 L344.10 87.20 L344.60 86.98 L345.09 86.76 L345.59 86.54 L346.09 86.32 L346.58 86.10 L347.08 85.88 L347.58 85.66 L348.07 85.44 L348.57 85.22 L349.06 85.00 L349.56 84.78 L350.06 84.56 L350.55 84.34 L351.05 84.12 L351.55 83.90 L352.04 83.68 L352.54 83.46 L353.03 83.24 L353.53 83.02 L354.03 82.80 L354.52 82.58 L355.02 82.36 L355.52 82.14 L356.01 81.92 L356.51 81.70 L357.00 81.48 L357.50 81.26" stroke="#800080" stroke-width="2.3" fill="none" stroke-dasharray="5.8 1.85" stroke-dashoffset="3.648"/>
<path d="M161.50 135.73 L162.00 135.27 L162.49 134.80 L162.99 134.34 L163.48 133.88 L163.98 133.43 L164.48 132.97 L164.97 132.52 L165.47 132.07 L165.97 131.62 L166.46 131.17 L166.96 130.72 L167.45 130.27 L167.95 129.82 L168.45 129.37 L168.94 128.93 L169.44 128.48 L169.94 128.03 L170.43 127.59 L170.93 127.14 L171.42 126.70 L171.92 126.25 L172.42 125.82 L172.91 125.38 L173.41 124.95 L173.91 124.52 L174.40 124.10 L174.90 123.69 L175.39 123.28 L175.89 122.88 L176.39 122.49 L176.88 122.10 L177.38 121.73 L177.88 121.36 L178.37 121.01 L178.87 120.67 L179.36 120.34 L179.86 120.02 L180.36 119.71 L180.85 119.41 L181.35 119.11 L181.85 118.83 L182.34 118.56 L182.84 118.29 L183.33 118.04 L183.83 117.78 L184.33 117.53 L184.82 117.29 L185.32 117.05 L185.82 116.81 L186.31 116.58 L186.81 116.35 L187.30 116.12 L187.80 115.89 L188.30 115.67 L188.79 115.44 L189.29 115.22 L189.79 115.00 L190.28 114.78 L190.78 114.55 L191.27 114.33 L191.77 114.11 L192.27 113.89 L192.76 113.67 L193.26 113.45 L193.76 113.24 L194.25 113.02 L194.75 112.80 L195.24 112.58 L195.74 112.36 L196.24 112.14 L196.73 111.92 L197.23 111.70 L197.73 111.49 L198.22 111.27 L198.72 111.05 L199.21 110.83 L199.71 110.61 L200.21 110.39 L200.70 110.17 L201.20 109.96 L201.70 109.74 L202.19 109.52 L202.69 109.30 L203.18 109.08 L203.68 108.86 L204.18 108.65 L204.67 108.43 L205.17 108.21 L205.67 107.99 L206.16 107.77 L206.66 107.55 L207.15 107.34 L207.65 107.12 L208.15 106.90 L208.64 106.68 L209.14 106.46 L209.64 106.24 L210.13 106.03 L210.63 105.81 L211.12 105.59 L211.62 105.37 L212.12 105.15 L212.61 104.93 L213.11 104.72 L213.61 104.50 L214.10 104.28 L214.60 104.06 L215.09 103.84 L215.59 103.62 L216.09 103.41 L216.58 103.19 L217.08 102.97 L217.58 102.75 L218.07 102.53 L218.57 102.31 L219.06 102.10 L219.56 101.88 L220.06 101.66 L220.55 101.44 L221.05 101.22 L221.55 101.00 L222.04 100.79 L222.54 100.57 L223.03 100.35 L223.53 100.13 L224.03 99.91 L224.52 99.69 L225.02 99.48 L225.52 99.26 L226.01 99.04 L226.51 98.82 L227.00 98.60 L227.50 98.38 L228.00 98.17 L228.49 97.95 L228.99 97.73 L229.48 97.51 L229.98 97.29 L230.48 97.07 L230.97 96.86 L231.47 96.64 L231.97 96.42 L232.46 96.20 L232.96 95.98 L233.45 95.76 L233.95 95.55 L234.45 95.33 L234.94 95.11 L235.44 94.89 L235.94 94.67 L236.43 94.45 L236.93 94.24 L237.42 94.02 L237.92 93.80 L238.42 93.58 L238.91 93.36 L239.41 93.14 L239.91 92.93 L240.40 92.71 L240.90 92.49 L241.39 92.27 L241.89 92.05 L242.39 91.83 L242.88 91.62 L243.38 91.40 L243.88 91.18 L244.37 90.96 L244.87 90.74 L245.36 90.52 L245.86 90.31 L246.36 90.09 L246.85 89.87 L247.35 89.65 L247.85 89.43 L248.34 89.21 L248.84 89.00 L249.33 88.78 L249.83 88.56 L250.33 88.34 L250.82 88.12 L251.32 87.90 L251.82 87.69 L252.31 87.47 L252.81 87.25 L253.30 87.03 L253.80 86.81 L254.30 86.59 L254.79 86.38 L255.29 86.16 L255.79 85.94 L256.28 85.72 L256.78 85.50 L257.27 85.28 L257.77 85.07 L258.27 84.85 L258.76 84.63 L259.26 84.41 L259.76 84.19 L260.25 83.97 L260.75 83.75 L261.24 83.54 L261.74 83.32 L262.24 83.10 L262.73 82.88 L263.23 82.66 L263.73 82.44 L264.22 82.23 L264.72 82.01 L265.21 81.79 L265.71 81.57 L266.21 81.35 L266.70 81.13 L267.20 80.92 L267.70 80.70 L268.19 80.48 L268.69 80.26 L269.18 80.04 L269.68 79.82 L270.18 79.61 L270.67 79.39 L271.17 79.17 L271.67 78.95 L272.16 78.73 L272.66 78.52 L273.15 78.30 L273.65 78.08 L274.15 77.86 L274.64 77.64 L275.14 77.42 L275.64 77.21 L276.13 76.99 L276.63 76.77 L277.12 76.55 L277.62 76.33 L278.12 76.11 L278.61 75.90 L279.11 75.68 L279.61 75.46 L280.10 75.24 L280.60 75.02 L281.09 74.80 L281.59 74.59 L282.09 74.37 L282.58 74.15 L283.08 73.93 L283.58 73.71 L284.07 73.49 L284.57 73.28 L285.06 73.06 L285.56 72.84 L286.06 72.62 L286.55 72.40 L287.05 72.18 L287.55 71.97 L288.04 71.75 L288.54 71.53 L289.03 71.31 L289.53 71.09 L290.03 70.88 L290.52 70.66 L291.02 70.44 L291.52 70.22 L292.01 70.00 L292.51 69.78 L293.00 69.57 L293.50 69.35 L294.00 69.13 L294.49 68.91 L294.99 68.69 L295.48 68.48 L295.98 68.26 L296.48 68.04 L296.97 67.82 L297.47 67.60 L297.97 67.39 L298.46 67.17 L298.96 66.95 L299.45 66.73 L299.95 66.51 L300.45 66.30 L300.94 66.08 L301.44 65.86 L301.94 65.64 L302.43 65.43 L302.93 65.21 L303.42 64.99 L303.92 64.77 L304.42 64.55 L304.91 64.34 L305.41 64.12 L305.91 63.90 L306.40 63.68 L306.90 63.47 L307.39 63.25 L307.89 63.03 L308.39 62.81 L308.88 62.60 L309.38 62.38 L309.88 62.16 L310.37 61.95 L310.87 61.73 L311.36 61.51 L311.86 61.30 L312.36 61.08 L312.85 60.86 L313.35 60.65 L313.85 60.43 L314.34 60.21 L314.84 60.00 L315.33 59.78 L315.83 59.56 L316.33 59.35 L316.82 59.13 L317.32 58.92 L317.82 58.70 L318.31 58.49 L318.81 58.27 L319.30 58.06 L319.80 57.84 L320.30 57.63 L320.79 57.41 L321.29 57.20 L321.79 56.98 L322.28 56.77 L322.78 56.56 L323.27 56.34 L323.77 56.13 L324.27 55.92 L324.76 55.71 L325.26 55.49 L325.76 55.28 L326.25 55.07 L326.75 54.86 L327.24 54.65 L327.74 54.44 L328.24 54.23 L328.73 54.02 L329.23 53.81 L329.73 53.60 L330.22 53.39 L330.72 53.19 L331.21 52.98 L331.71 52.77 L332.21 52.57 L332.70 52.36 L333.20 52.16 L333.70 51.95 L334.19 51.75 L334.69 51.55 L335.18 51.35 L335.68 51.15 L336.18 50.95 L336.67 50.75 L337.17 50.55 L337.67 50.35 L338.16 50.16 L338.66 49.96 L339.15 49.77 L339.65 49.58 L340.15 49.39 L340.64 49.20 L341.14 49.01 L341.64 48.82 L342.13 48.64 L342.63 48.45 L343.12 48.27 L343.62 48.09 L344.12 47.91 L344.61 47.73 L345.11 47.55 L345.61 47.38 L346.10 47.21 L346.60 47.04 L347.09 46.87 L347.59 46.70 L348.09 46.54 L348.58 46.38 L349.08 46.22 L349.58 46.06 L350.07 45.90 L350.57 45.75 L351.06 45.60 L351.56 45.45 L352.06 45.31 L352.55 45.16 L353.05 45.02 L353.55 44.88 L354.04 44.75 L354.54 44.62 L355.03 44.49 L355.53 44.36 L356.03 44.24 L356.52 44.12 L357.02 44.00 L357.52 43.88 L358.01 43.77 L358.51 43.66 L359.00 43.55 L359.50 43.45" stroke="#00ff00" stroke-width="2.3" fill="none" stroke-dasharray="5.8 1.85" stroke-dashoffset="0.411"/>
<path d="M161.50 91.51 L162.00 91.08 L162.49 90.66 L162.99 90.24 L163.48 89.81 L163.98 89.39 L164.48 88.98 L164.97 88.56 L165.47 88.14 L165.97 87.73 L166.46 87.32 L166.96 86.92 L167.45 86.51 L167.95 86.11 L168.45 85.70 L168.94 85.30 L169.44 84.90 L169.94 84.51 L170.43 84.14 L170.93 83.77 L171.42 83.42 L171.92 83.09 L172.42 82.77 L172.91 82.47 L173.41 82.18 L173.91 81.90 L174.40 81.63 L174.90 81.37 L175.39 81.12 L175.89 80.87 L176.39 80.62 L176.88 80.38 L177.38 80.15 L177.88 79.91 L178.37 79.68 L178.87 79.45 L179.36 79.22 L179.86 78.99 L180.36 78.76 L180.85 78.54 L181.35 78.31 L181.85 78.09 L182.34 77.86 L182.84 77.64 L183.33 77.41 L183.83 77.19 L184.33 76.96 L184.82 76.74 L185.32 76.52 L185.82 76.29 L186.31 76.07 L186.81 75.85 L187.30 75.62 L187.80 75.40 L188.30 75.18 L188.79 74.95 L189.29 74.73 L189.79 74.51 L190.28 74.28 L190.78 74.06 L191.27 73.84 L191.77 73.61 L192.27 73.39 L192.76 73.17 L193.26 72.94 L193.76 72.72 L194.25 72.50 L194.75 72.27 L195.24 72.05 L195.74 71.83 L196.24 71.61 L196.73 71.38 L197.23 71.16 L197.73 70.94 L198.22 70.71 L198.72 70.49 L199.21 70.27 L199.71 70.05 L200.21 69.82 L200.70 69.60 L201.20 69.38 L201.70 69.15 L202.19 68.93 L202.69 68.71 L203.18 68.49 L203.68 68.26 L204.18 68.04 L204.67 67.82 L205.17 67.60 L205.67 67.37 L206.16 67.15 L206.66 66.93 L207.15 66.71 L207.65 66.48 L208.15 66.26 L208.64 66.04 L209.14 65.82 L209.64 65.60 L210.13 65.37 L210.63 65.15 L211.12 64.93 L211.62 64.71 L212.12 64.49 L212.61 64.26 L213.11 64.04 L213.61 63.82 L214.10 63.60 L214.60 63.38 L215.09 63.16 L215.59 62.94 L216.09 62.71 L216.58 62.49 L217.08 62.27 L217.58 62.05 L218.07 61.83 L218.57 61.61 L219.06 61.39 L219.56 61.17 L220.06 60.95 L220.55 60.73 L221.05 60.51 L221.55 60.29 L222.04 60.07 L222.54 59.85 L223.03 59.63 L223.53 59.41 L224.03 59.19 L224.52 58.98 L225.02 58.76 L225.52 58.54 L226.01 58.32 L226.51 58.10 L227.00 57.89 L227.50 57.67 L228.00 57.45 L228.49 57.24 L228.99 57.02 L229.48 56.80 L229.98 56.59 L230.48 56.37 L230.97 56.16 L231.47 55.95 L231.97 55.73 L232.46 55.52 L232.96 55.31 L233.45 55.09 L233.95 54.88 L234.45 54.67 L234.94 54.46 L235.44 54.25 L235.94 54.04 L236.43 53.83 L236.93 53.62 L237.42 53.41 L237.92 53.21 L238.42 53.00 L238.91 52.79 L239.41 52.59 L239.91 52.38 L240.40 52.18 L240.90 51.98 L241.39 51.78 L241.89 51.58 L242.39 51.38 L242.88 51.18 L243.38 50.98 L243.88 50.78 L244.37 50.59 L244.87 50.40 L245.36 50.20 L245.86 50.01 L246.36 49.82 L246.85 49.63 L247.35 49.44 L247.85 49.26 L248.34 49.07 L248.84 48.89 L249.33 48.71 L249.83 48.53 L250.33 48.35 L250.82 48.17 L251.32 48.00 L251.82 47.82 L252.31 47.65 L252.81 47.48 L253.30 47.32 L253.80 47.15 L254.30 46.99 L254.79 46.83 L255.29 46.67 L255.79 46.51 L256.28 46.36 L256.78 46.20 L257.27 46.05 L257.77 45.90 L258.27 45.76 L258.76 45.62 L259.26 45.47 L259.76 45.34 L260.25 45.20 L260.75 45.07 L261.24 44.94 L261.74 44.81 L262.24 44.68 L262.73 44.56 L263.23 44.44 L263.73 44.32 L264.22 44.20 L264.72 44.09 L265.21 43.98 L265.71 43.87 L266.21 43.77 L266.70 43.67 L267.20 43.57 L267.70 43.47 L268.19 43.38 L268.69 43.28 L269.18 43.19 L269.68 43.11 L270.18 43.02 L270.67 42.94 L271.17 42.86 L271.67 42.78 L272.16 42.71 L272.66 42.64 L273.15 42.57 L273.65 42.50 L274.15 42.43 L274.64 42.37 L275.14 42.31 L275.64 42.25 L276.13 42.19 L276.63 42.13 L277.12 42.08 L277.62 42.03 L278.12 41.98 L278.61 41.93 L279.11 41.88 L279.61 41.84 L280.10 41.80 L280.60 41.76 L281.09 41.72 L281.59 41.68 L282.09 41.64 L282.58 41.60 L283.08 41.57 L283.58 41.54 L284.07 41.51 L284.57 41.48 L285.06 41.45 L285.56 41.42 L286.06 41.39 L286.55 41.37 L287.05 41.34 L287.55 41.32 L288.04 41.30 L288.54 41.28 L289.03 41.25 L289.53 41.23 L290.03 41.22 L290.52 41.20 L291.02 41.18 L291.52 41.16 L292.01 41.15 L292.51 41.13 L293.00 41.12 L293.50 41.10 L294.00 41.09 L294.49 41.08 L294.99 41.06 L295.48 41.05 L295.98 41.04 L296.48 41.03 L296.97 41.02 L297.47 41.01 L297.97 41.00 L298.46 40.99 L298.96 40.98 L299.45 40.97 L299.95 40.97 L300.45 40.96 L300.94 40.95 L301.44 40.95 L301.94 40.94 L302.43 40.93 L302.93 40.93 L303.42 40.92 L303.92 40.92 L304.42 40.91 L304.91 40.91 L305.41 40.90 L305.91 40.90 L306.40 40.89 L306.90 40.89 L307.39 40.88 L307.89 40.88 L308.39 40.88 L308.88 40.87 L309.38 40.87 L309.88 40.87 L310.37 40.86 L310.87 40.86 L311.36 40.86 L311.86 40.85 L312.36 40.85 L312.85 40.85 L313.35 40.85 L313.85 40.85 L314.34 40.84 L314.84 40.84 L315.33 40.84 L315.83 40.84 L316.33 40.84 L316.82 40.83 L317.32 40.83 L317.82 40.83 L318.31 40.83 L318.81 40.83 L319.30 40.83 L319.80 40.83 L320.30 40.82 L320.79 40.82 L321.29 40.82 L321.79 40.82 L322.28 40.82 L322.78 40.82 L323.27 40.82 L323.77 40.82 L324.27 40.82 L324.76 40.82 L325.26 40.82 L325.76 40.81 L326.25 40.81 L326.75 40.81 L327.24 40.81 L327.74 40.81 L328.24 40.81 L328.73 40.81 L329.23 40.81 L329.73 40.81 L330.22 40.81 L330.72 40.81 L331.21 40.81 L331.71 40.81 L332.21 40.81 L332.70 40.81 L333.20 40.81 L333.70 40.81 L334.19 40.81 L334.69 40.81 L335.18 40.81 L335.68 40.81 L336.18 40.81 L336.67 40.81 L337.17 40.81 L337.67 40.80 L338.16 40.80 L338.66 40.80 L339.15 40.80 L339.65 40.80 L340.15 40.80 L340.64 40.80 L341.14 40.80 L341.64 40.80 L342.13 40.80 L342.63 40.80 L343.12 40.80 L343.62 40.80 L344.12 40.80 L344.61 40.80 L345.11 40.80 L345.61 40.80 L346.10 40.80 L346.60 40.80 L347.09 40.80 L347.59 40.80 L348.09 40.80 L348.58 40.80 L349.08 40.80 L349.58 40.80 L350.07 40.80 L350.57 40.80 L351.06 40.80 L351.56 40.80 L352.06 40.80 L352.55 40.80 L353.05 40.80 L353.55 40.80 L354.04 40.80 L354.54 40.80 L355.03 40.80 L355.53 40.80 L356.03 40.80 L356.52 40.80 L357.02 40.80 L357.52 40.80 L358.01 40.80 L358.51 40.80 L359.00 40.80 L359.50 40.80" stroke="#ff0000" stroke-width="2.3" fill="none" stroke-dasharray="5.8 1.85" stroke-dashoffset="7.588"/>
<path d="M146.00 56.37 L146.54 56.04 L147.07 55.72 L147.61 55.40 L148.14 55.08 L148.68 54.78 L149.21 54.47 L149.75 54.16 L150.28 53.84 L150.82 53.53 L151.35 53.21 L151.89 52.90 L152.42 52.58 L152.96 52.27 L153.49 51.96 L154.03 51.65 L154.56 51.35 L155.10 51.05 L155.63 50.76 L156.17 50.49 L156.70 50.22 L157.24 49.97 L157.77 49.72 L158.31 49.47 L158.84 49.23 L159.38 48.98 L159.91 48.73 L160.45 48.48 L160.98 48.24 L161.52 48.02 L162.05 47.79 L162.59 47.57 L163.12 47.35 L163.66 47.14 L164.19 46.93 L164.73 46.73 L165.26 46.53 L165.80 46.34 L166.33 46.15 L166.87 45.97 L167.40 45.80 L167.94 45.62 L168.47 45.45 L169.01 45.27 L169.54 45.09 L170.08 44.91 L170.61 44.74 L171.15 44.57 L171.68 44.41 L172.22 44.26 L172.75 44.13 L173.29 44.00 L173.82 43.90 L174.36 43.80 L174.89 43.70 L175.43 43.60 L175.96 43.49 L176.50 43.39 L177.04 43.28 L177.57 43.18 L178.11 43.08 L178.64 42.98 L179.18 42.88 L179.71 42.78 L180.25 42.69 L180.78 42.60 L181.32 42.51 L181.85 42.43 L182.39 42.34 L182.92 42.26 L183.46 42.18 L183.99 42.10 L184.53 42.02 L185.06 41.93 L185.60 41.85 L186.13 41.78 L186.67 41.70 L187.20 41.62 L187.74 41.55 L188.27 41.49 L188.81 41.43 L189.34 41.37 L189.88 41.32 L190.41 41.28 L190.95 41.23 L191.48 41.19 L192.02 41.15 L192.55 41.10 L193.09 41.06 L193.62 41.02 L194.16 40.98 L194.69 40.95 L195.23 40.91 L195.76 40.88 L196.30 40.85 L196.83 40.83 L197.37 40.81 L197.90 40.79 L198.44 40.77 L198.97 40.76 L199.51 40.75 L200.04 40.75 L200.58 40.75 L201.11 40.75 L201.65 40.75 L202.18 40.75 L202.72 40.75 L203.25 40.75 L203.79 40.75 L204.32 40.75 L204.86 40.75 L205.39 40.75 L205.93 40.75 L206.46 40.74 L207.00 40.74 L207.54 40.74 L208.07 40.74 L208.61 40.74 L209.14 40.74 L209.68 40.74 L210.21 40.74 L210.75 40.74 L211.28 40.74 L211.82 40.74 L212.35 40.74 L212.89 40.74 L213.42 40.74 L213.96 40.74 L214.49 40.74 L215.03 40.74 L215.56 40.74 L216.10 40.74 L216.63 40.74 L217.17 40.74 L217.70 40.74 L218.24 40.74 L218.77 40.74 L219.31 40.74 L219.84 40.74 L220.38 40.74 L220.91 40.73 L221.45 40.73 L221.98 40.73 L222.52 40.73 L223.05 40.73 L223.59 40.73 L224.12 40.73 L224.66 40.73 L225.19 40.73 L225.73 40.73 L226.26 40.73 L226.80 40.73 L227.33 40.73 L227.87 40.73 L228.40 40.73 L228.94 40.73 L229.47 40.73 L230.01 40.73 L230.54 40.73 L231.08 40.73 L231.61 40.73 L232.15 40.73 L232.68 40.73 L233.22 40.73 L233.75 40.73 L234.29 40.73 L234.82 40.73 L235.36 40.73 L235.89 40.73 L236.43 40.73 L236.96 40.73 L237.50 40.73 L238.04 40.72 L238.57 40.72 L239.11 40.72 L239.64 40.72 L240.18 40.72 L240.71 40.72 L241.25 40.72 L241.78 40.72 L242.32 40.72 L242.85 40.72 L243.39 40.72 L243.92 40.72 L244.46 40.72 L244.99 40.72 L245.53 40.72 L246.06 40.72 L246.60 40.72 L247.13 40.72 L247.67 40.72 L248.20 40.72 L248.74 40.72 L249.27 40.72 L249.81 40.72 L250.34 40.72 L250.88 40.72 L251.41 40.72 L251.95 40.72 L252.48 40.72 L253.02 40.72 L253.55 40.72 L254.09 40.72 L254.62 40.72 L255.16 40.72 L255.69 40.72 L256.23 40.72 L256.76 40.72 L257.30 40.72 L257.83 40.72 L258.37 40.72 L258.90 40.72 L259.44 40.72 L259.97 40.72 L260.51 40.71 L261.04 40.71 L261.58 40.71 L262.11 40.71 L262.65 40.71 L263.18 40.71 L263.72 40.71 L264.25 40.71 L264.79 40.71 L265.32 40.71 L265.86 40.71 L266.39 40.71 L266.93 40.71 L267.46 40.71 L268.00 40.71 L268.54 40.71 L269.07 40.71 L269.61 40.71 L270.14 40.71 L270.68 40.71 L271.21 40.71 L271.75 40.71 L272.28 40.71 L272.82 40.71 L273.35 40.71 L273.89 40.71 L274.42 40.71 L274.96 40.71 L275.49 40.71 L276.03 40.71 L276.56 40.71 L277.10 40.71 L277.63 40.71 L278.17 40.71 L278.70 40.71 L279.24 40.71 L279.77 40.71 L280.31 40.71 L280.84 40.71 L281.38 40.71 L281.91 40.71 L282.45 40.71 L282.98 40.71 L283.52 40.71 L284.05 40.71 L284.59 40.71 L285.12 40.71 L285.66 40.71 L286.19 40.71 L286.73 40.71 L287.26 40.71 L287.80 40.71 L288.33 40.71 L288.87 40.71 L289.40 40.71 L289.94 40.71 L290.47 40.71 L291.01 40.71 L291.54 40.71 L292.08 40.71 L292.61 40.71 L293.15 40.71 L293.68 40.71 L294.22 40.71 L294.75 40.71 L295.29 40.71 L295.82 40.71 L296.36 40.71 L296.89 40.70 L297.43 40.70 L297.96 40.70 L298.50 40.70 L299.04 40.70 L299.57 40.70 L300.11 40.70 L300.64 40.70 L301.18 40.70 L301.71 40.70 L302.25 40.70 L302.78 40.70 L303.32 40.70 L303.85 40.70 L304.39 40.70 L304.92 40.70 L305.46 40.70 L305.99 40.70 L306.53 40.70 L307.06 40.70 L307.60 40.70 L308.13 40.70 L308.67 40.70 L309.20 40.70 L309.74 40.70 L310.27 40.70 L310.81 40.70 L311.34 40.70 L311.88 40.70 L312.41 40.70 L312.95 40.70 L313.48 40.70 L314.02 40.70 L314.55 40.70 L315.09 40.70 L315.62 40.70 L316.16 40.70 L316.69 40.70 L317.23 40.70 L317.76 40.70 L318.30 40.70 L318.83 40.70 L319.37 40.70 L319.90 40.70 L320.44 40.70 L320.97 40.70 L321.51 40.70 L322.04 40.70 L322.58 40.70 L323.11 40.70 L323.65 40.70 L324.18 40.70 L324.72 40.70 L325.25 40.70 L325.79 40.70 L326.32 40.70 L326.86 40.70 L327.39 40.70 L327.93 40.70 L328.46 40.70 L329.00 40.70 L329.54 40.70 L330.07 40.70 L330.61 40.70 L331.14 40.70 L331.68 40.70 L332.21 40.70 L332.75 40.70 L333.28 40.70 L333.82 40.70 L334.35 40.70 L334.89 40.70 L335.42 40.70 L335.96 40.70 L336.49 40.70 L337.03 40.70 L337.56 40.70 L338.10 40.70 L338.63 40.70 L339.17 40.70 L339.70 40.70 L340.24 40.70 L340.77 40.70 L341.31 40.70 L341.84 40.70 L342.38 40.70 L342.91 40.70 L343.45 40.70 L343.98 40.70 L344.52 40.70 L345.05 40.70 L345.59 40.70 L346.12 40.70 L346.66 40.70 L347.19 40.70 L347.73 40.70 L348.26 40.70 L348.80 40.70 L349.33 40.70 L349.87 40.70 L350.40 40.70 L350.94 40.70 L351.47 40.70 L352.01 40.70 L352.54 40.70 L353.08 40.70 L353.61 40.70 L354.15 40.70 L354.68 40.70 L355.22 40.70 L355.75 40.70 L356.29 40.70 L356.82 40.70 L357.36 40.70 L357.89 40.70 L358.43 40.70 L358.96 40.70 L359.50 40.70" stroke="#00ffff" stroke-width="2.3" fill="none" stroke-dasharray="5.8 1.85" stroke-dashoffset="2.835"/>
<defs><filter id="f" x="0" y="0" width="382" height="255" filterUnits="userSpaceOnUse"><feOffset dx="0" dy="0"/></filter></defs>
<g filter="url(#f)" style="will-change:transform">
<text x="7.20" y="42.85" text-anchor="start" >10<tspan dy="-6.60" font-size="13.50">−</tspan><tspan dy="-1.40" font-size="13.50">5</tspan></text>
<text x="7.20" y="103.60" text-anchor="start" >10<tspan dy="-6.60" font-size="13.50">−</tspan><tspan dy="-1.40" font-size="13.50">8</tspan></text>
<text x="-0.50" y="163.60" text-anchor="start" >10<tspan dy="-6.60" font-size="13.50">−</tspan><tspan dy="-1.40" font-size="13.50">11</tspan></text>
<text x="104.80" y="246.80" text-anchor="middle" >0.001</text>
<text x="173.30" y="246.80" text-anchor="middle" >1</text>
<text x="243.20" y="246.80" text-anchor="middle" >1000</text>
<text x="297.30" y="246.80" text-anchor="start" >10<tspan dy="-8.00" font-size="13.50">6</tspan></text>
<text x="25.00" y="20.90" text-anchor="start" >m/<tspan font-style="italic">M</tspan><tspan font-style="italic" font-size="13.50" dy="4.30">P</tspan></text>
<path d="M383.4 220.4C381.4 219.8 379.9 219.8 378.4 220.6C377 221.5 376.4 222.6 376.9 223.5C377.4 224.5 378.9 224.9 380.8 224.9C378.9 225 377.4 225.8 376.4 227C375.2 228.5 374.6 230 375 231.2C375.6 232.6 377.4 233.2 379 233.8C380 234.3 380.3 235.2 379.7 236.2C379 237.3 377.8 237.8 376.6 237.8" fill="none" stroke="#000" stroke-width="1.45" stroke-linecap="round" stroke-linejoin="round"><title>ξ</title></path>
<rect x="7.57" y="40.91" width="4.03" height="3.34" fill="#fff"/>
<rect x="14.21" y="40.91" width="3.88" height="3.34" fill="#fff"/>
<rect x="7.57" y="101.66" width="4.03" height="3.34" fill="#fff"/>
<rect x="14.21" y="101.66" width="3.88" height="3.34" fill="#fff"/>
<rect x="-0.13" y="161.66" width="4.03" height="3.34" fill="#fff"/>
<rect x="6.51" y="161.66" width="3.88" height="3.34" fill="#fff"/>
<rect x="28.78" y="154.09" width="3.02" height="2.91" fill="#fff"/>
<rect x="33.89" y="154.09" width="2.91" height="2.91" fill="#fff"/>
<rect x="36.29" y="154.09" width="3.02" height="2.91" fill="#fff"/>
<rect x="41.40" y="154.09" width="2.91" height="2.91" fill="#fff"/>
<rect x="118.58" y="244.86" width="4.03" height="3.34" fill="#fff"/>
<rect x="125.22" y="244.86" width="3.88" height="3.34" fill="#fff"/>
<rect x="168.30" y="244.86" width="4.03" height="3.34" fill="#fff"/>
<rect x="174.94" y="244.86" width="3.88" height="3.34" fill="#fff"/>
<rect x="222.10" y="244.86" width="4.03" height="3.34" fill="#fff"/>
<rect x="228.74" y="244.86" width="3.88" height="3.34" fill="#fff"/>
<rect x="297.67" y="244.86" width="4.03" height="3.34" fill="#fff"/>
<rect x="304.31" y="244.86" width="3.88" height="3.34" fill="#fff"/>
</g>
</svg>
</body></html>
